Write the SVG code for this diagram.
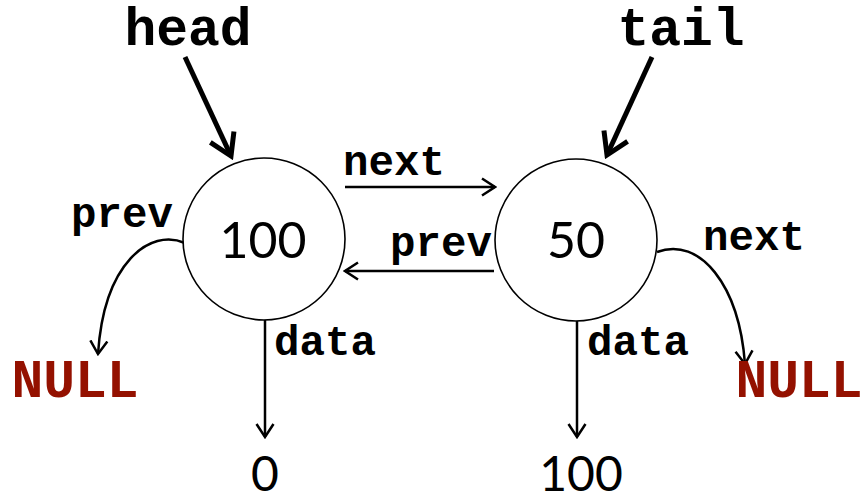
<svg xmlns="http://www.w3.org/2000/svg" width="866" height="502" viewBox="0 0 866 502">
<style>
.lbl{font-family:"Liberation Mono","Courier New",monospace;font-weight:bold;font-size:42.5px;fill:#000}
.big{font-family:"Liberation Mono","Courier New",monospace;font-weight:bold;font-size:53px;fill:#000}
.null{font-family:"Liberation Mono","Courier New",monospace;font-weight:bold;font-size:53px;fill:#941100}
.num{font-family:"Lato","Noto Sans",sans-serif;font-size:50px;fill:#000}
.val{font-family:"Lato","Noto Sans",sans-serif;font-size:48px;fill:#000}
.node{fill:#fff;stroke:#000;stroke-width:1.6}
.con{fill:none;stroke:#000;stroke-width:2.5}
.ptr{fill:none;stroke:#000;stroke-width:5}
</style>
<defs>
<marker id="a" viewBox="0 0 16 20" refX="14" refY="10" markerWidth="16" markerHeight="20" orient="auto" markerUnits="userSpaceOnUse">
<path d="M1,1.5 L14,10 L1,18.5" fill="none" stroke="#000" stroke-width="2.5"/>
</marker>
<marker id="b" viewBox="0 0 28 32" refX="24" refY="16" markerWidth="28" markerHeight="32" orient="auto" markerUnits="userSpaceOnUse">
<path d="M3,3 L24,16 L3,29" fill="none" stroke="#000" stroke-width="5"/>
</marker>
</defs>
<g id="connectors">
<line class="ptr" x1="185" y1="57" x2="231" y2="156" marker-end="url(#b)"/>
<line class="ptr" x1="652" y1="57" x2="607" y2="155" marker-end="url(#b)"/>
<line class="con" x1="345" y1="187" x2="495" y2="187" marker-end="url(#a)"/>
<line class="con" x1="494" y1="271" x2="345" y2="271" marker-end="url(#a)"/>
<path class="con" d="M185,243 C150,228 104,262 98,354" marker-end="url(#a)"/>
<path class="con" d="M657,252 C700,236 739,285 745,364" marker-end="url(#a)"/>
<line class="con" x1="265" y1="320" x2="265" y2="437" marker-end="url(#a)"/>
<line class="con" x1="577" y1="321" x2="577" y2="437" marker-end="url(#a)"/>
</g>
<g id="head"><text class="big" x="188" y="45" text-anchor="middle">head</text></g>
<g id="tail"><text class="big" x="681" y="45" text-anchor="middle">tail</text></g>
<g id="node100">
<circle class="node" cx="264" cy="239" r="81"/>
<text class="num" x="263" y="258" text-anchor="middle">100</text>
</g>
<g id="node50">
<circle class="node" cx="576" cy="240" r="81"/>
<text class="num" x="576" y="258" text-anchor="middle">50</text>
</g>
<g id="labels">
<text class="lbl" x="394" y="175" text-anchor="middle">next</text>
<text class="lbl" x="441" y="256" text-anchor="middle">prev</text>
<text class="lbl" x="122" y="227" text-anchor="middle">prev</text>
<text class="lbl" x="754" y="250" text-anchor="middle">next</text>
<text class="lbl" x="325" y="355" text-anchor="middle">data</text>
<text class="lbl" x="638" y="355" text-anchor="middle">data</text>
</g>
<g id="null-left"><text class="null" x="75" y="397" text-anchor="middle">NULL</text></g>
<g id="null-right"><text class="null" x="799" y="397" text-anchor="middle">NULL</text></g>
<g id="val0"><text class="val" x="265" y="491" text-anchor="middle">0</text></g>
<g id="val100"><text class="val" x="581" y="491" text-anchor="middle">100</text></g>
</svg>
